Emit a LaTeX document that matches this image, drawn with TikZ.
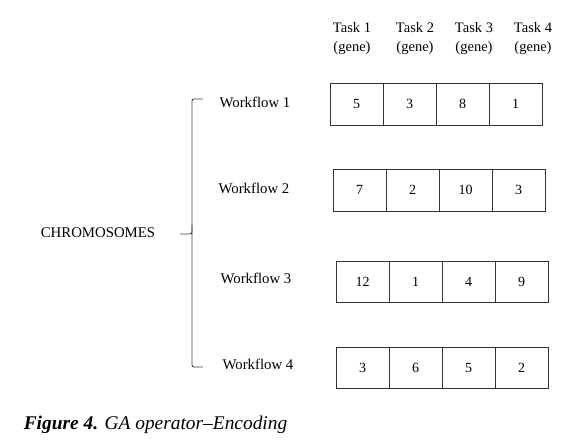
\documentclass[tikz,border=0pt]{standalone}
\usepackage{fontspec}
\setmainfont{Liberation Serif}
\usepackage{tikz}
\usetikzlibrary{positioning}

\begin{document}
\begin{tikzpicture}[x=1pt,y=-1pt,line width=0.9pt]
\tikzstyle{cell}=[rectangle,draw=black!80,minimum width=53pt,minimum height=42pt,inner sep=0pt,font=\fontsize{14}{16}\selectfont]
\tikzstyle{wf}=[font=\fontsize{14.8}{16}\selectfont]
\tikzstyle{task}=[align=center,font=\fontsize{14.5}{19}\selectfont]
\useasboundingbox (0,0) rectangle (583,447);
% task headers
\node[task] (t1) at (352,39) {Task 1\\(gene)};
\node[task] (t2) at (415,39) {Task 2\\(gene)};
\node[task] (t3) at (474,39) {Task 3\\(gene)};
\node[task] (t4) at (533,39) {Task 4\\(gene)};
% chromosome rows
\foreach \v [count=\i] in {5,3,8,1}
  \node[cell] (a\i) at (330+53*\i-26.5,104) {\v};
\foreach \v [count=\i] in {7,2,10,3}
  \node[cell] (b\i) at (333+53*\i-26.5,190) {\v};
\foreach \v [count=\i] in {12,1,4,9}
  \node[cell,minimum height=41pt] (c\i) at (336+53*\i-26.5,282) {\v};
\foreach \v [count=\i] in {3,6,5,2}
  \node[cell,minimum height=41pt] (d\i) at (336+53*\i-26.5,368) {\v};
% workflow labels
\node[wf] (w1) at (255,102) {Workflow 1};
\node[wf] (w2) at (254,188) {Workflow 2};
\node[wf] (w3) at (256,278) {Workflow 3};
\node[wf] (w4) at (258,364) {Workflow 4};
\node[wf] (chrom) at (98,233) {CHROMOSOMES};
% brace
\coordinate (brtop) at (203,99);
\coordinate (brbot) at (203,367);
\coordinate (brtip) at (180,234);
\draw[black!75,rounded corners=2pt] (brtop) -- (192,99) -- (192,234) -- (brtip);
\draw[black!75,rounded corners=2pt] (192,225) -- (192,367) -- (brbot);
% caption
\node[anchor=west,font=\fontsize{19.4}{21}\selectfont] (cap) at (20,425) {\textbf{\textit{Figure 4.}} \textit{GA operator--Encoding}};
\end{tikzpicture}
\end{document}
